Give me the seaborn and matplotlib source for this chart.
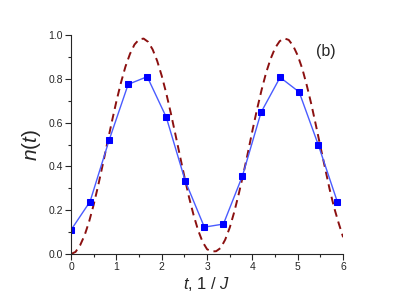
import numpy as np
import pandas as pd
import matplotlib
matplotlib.use('Agg')
import matplotlib.pyplot as plt
import seaborn as sns
from matplotlib.ticker import MultipleLocator

# simulated points (blue squares)
t_points = [0.0, 0.42, 0.84, 1.26, 1.68, 2.10, 2.52, 2.94, 3.36, 3.78, 4.19, 4.61, 5.03, 5.45, 5.87]
n_points = [0.11, 0.24, 0.52, 0.775, 0.81, 0.625, 0.333, 0.123, 0.137, 0.357, 0.647, 0.807, 0.74, 0.50, 0.24]

# dashed reference curve, every 0.1
t_curve = [round(0.1 * i, 1) for i in range(61)]
n_curve = [0.0, 0.01, 0.04, 0.086, 0.149, 0.226, 0.314, 0.409, 0.507, 0.604,
           0.697, 0.782, 0.856, 0.914, 0.957, 0.98, 0.984, 0.969, 0.934, 0.882,
           0.814, 0.734, 0.644, 0.548, 0.45, 0.353, 0.261, 0.18, 0.11, 0.056,
           0.022, 0.012, 0.013, 0.028, 0.066, 0.121, 0.193, 0.276, 0.366, 0.463,
           0.564, 0.66, 0.748, 0.827, 0.891, 0.941, 0.972, 0.985, 0.978, 0.95,
           0.906, 0.846, 0.769, 0.683, 0.588, 0.49, 0.394, 0.298, 0.213, 0.142,
           0.077]

sns.set_style('ticks')
plt.rcParams['font.family'] = ['Liberation Sans', 'DejaVu Sans']
plt.rcParams['mathtext.fontset'] = 'custom'
plt.rcParams['mathtext.it'] = 'Liberation Sans:italic'
plt.rcParams['mathtext.rm'] = 'Liberation Sans'

fig = plt.figure(figsize=(3.99, 3.05), dpi=100)
ax = fig.add_axes([0.178, 0.167, 0.682, 0.718])

curve_df = pd.DataFrame({'t': t_curve, 'n': n_curve})
pts_df = pd.DataFrame({'t': t_points, 'n': n_points})

sns.lineplot(data=curve_df, x='t', y='n', ax=ax, color='#8B1010', linewidth=1.4,
             dashes=False, errorbar=None)
ax.lines[-1].set_dashes([4, 2.6])
sns.lineplot(data=pts_df, x='t', y='n', ax=ax, color='#4A5CFF', linewidth=1.0,
             marker='s', markersize=4, markerfacecolor='#0000FF',
             markeredgecolor='#0000FF', errorbar=None)

ax.set_xlim(0, 6)
ax.set_ylim(0, 1.0)
ax.xaxis.set_major_locator(MultipleLocator(1))
ax.xaxis.set_minor_locator(MultipleLocator(0.5))
ax.yaxis.set_major_locator(MultipleLocator(0.2))
ax.yaxis.set_minor_locator(MultipleLocator(0.1))
ax.yaxis.set_major_formatter(matplotlib.ticker.FormatStrFormatter('%.1f'))
ax.tick_params(which='major', direction='out', length=4, width=0.8, labelsize=7.5, pad=2)
ax.tick_params(which='minor', direction='out', length=2.5, width=0.8)
sns.despine(ax=ax)

ax.set_xlabel(r'$t$, 1 / $J$', fontsize=12, labelpad=2)
ax.set_ylabel(r'$n(t)$', fontsize=15, labelpad=4)
ax.text(0.935, 0.925, '(b)', transform=ax.transAxes, fontsize=11.5,
        ha='center', va='center')

plt.savefig('out.png', dpi=100)
plt.close()
